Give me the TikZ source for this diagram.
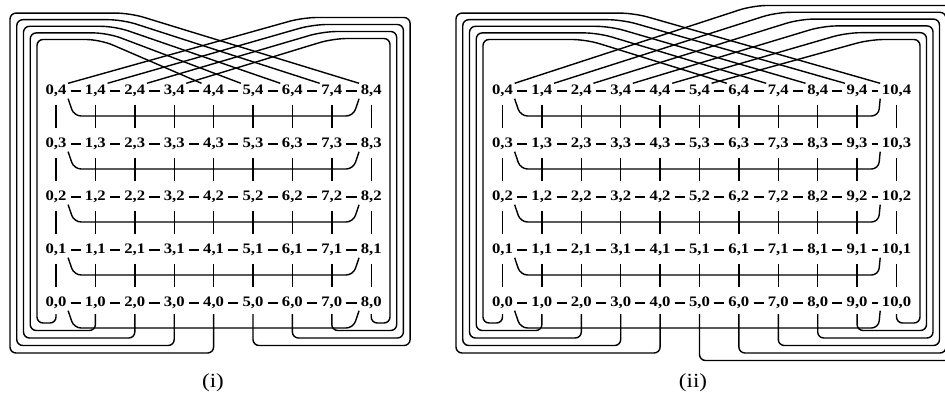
\documentclass[tikz,border=0pt]{standalone}
\usepackage{fontspec}
\setmainfont{Liberation Serif}[FakeStretch=1.15]
\usepackage{tikz}
\usetikzlibrary{calc}
\tikzset{
  vtx/.style={inner sep=1pt, text height=9.5pt, text depth=2.5pt, font=\fontsize{14.5}{14.5}\selectfont\bfseries},
  hedge/.style={shorten <=2.5pt, shorten >=2.5pt},
  vedge/.style={shorten <=6pt, shorten >=8pt},
  rowwrap/.style={rounded corners=7pt},
  twist/.style={rounded corners=6pt, shorten <=3.5pt},
  sublabel/.style={font=\fontsize{20}{20}\selectfont},
}

\begin{document}
\begin{tikzpicture}[x=1pt, y=-1pt, line width=1.4pt]
\useasboundingbox (0,0) rectangle (945,401);

% (i) 9 x 5
\foreach \x in {0,...,8}
  \foreach \y in {0,...,4}
    \node[vtx] (A-\x-\y) at (56+39.4*\x, 303-53*\y) {\x,\y};
\foreach \x in {0,...,7}
  \foreach \y in {0,...,4}{
    \pgfmathtruncatemacro\n{\x+1}
    \draw[hedge] (A-\x-\y) -- (A-\n-\y);
  }
\foreach \x in {0,...,8}
  \foreach \y in {0,...,3}{
    \pgfmathtruncatemacro\n{\y+1}
    \draw[vedge] (A-\x-\n.south) -- (A-\x-\y.north);
  }
\foreach \y in {0,...,4}
  \draw[rowwrap] (A-0-\y.south east) -- ($(A-0-\y)+(18,25)$) -- ($(A-8-\y)+(-18,25)$) -- (A-8-\y.south west);
% column wrap, left side
\foreach \j in {0,...,4}{
  \pgfmathtruncatemacro\t{\j+4}
  \pgfmathsetmacro\xc{56+39.4*\j}
  \pgfmathsetmacro\yb{323+7.5*\j}
  \pgfmathsetmacro\xl{37-6.75*\j}
  \pgfmathsetmacro\yt{39.5-6.6*\j}
  \pgfmathsetmacro\xh{100+7.5*\j}
  \draw[twist] (A-\j-0.south) -- (\xc,\yb) -- (\xl,\yb) -- (\xl,\yt) [rounded corners=14pt] -- (\xh,\yt) -- (A-\t-4.north west);
}
% column wrap, right side
\foreach \j in {0,...,3}{
  \pgfmathtruncatemacro\c{8-\j}
  \pgfmathtruncatemacro\t{3-\j}
  \pgfmathsetmacro\xc{56+39.4*\c}
  \pgfmathsetmacro\yb{323+7.5*\j}
  \pgfmathsetmacro\xr{390+6.7*\j}
  \pgfmathsetmacro\yt{38.5-7*\j}
  \pgfmathsetmacro\xh{333-10*\j}
  \draw[twist] (A-\c-0.south) -- (\xc,\yb) -- (\xr,\yb) -- (\xr,\yt) [rounded corners=14pt] -- (\xh,\yt) -- (A-\t-4.north east);
}

% (ii) 11 x 5
\foreach \x in {0,...,10}
  \foreach \y in {0,...,4}
    \node[vtx] (B-\x-\y) at (502.5+39.4*\x, 303-53*\y) {\x,\y};
\foreach \x in {0,...,9}
  \foreach \y in {0,...,4}{
    \pgfmathtruncatemacro\n{\x+1}
    \draw[hedge] (B-\x-\y) -- (B-\n-\y);
  }
\foreach \x in {0,...,10}
  \foreach \y in {0,...,3}{
    \pgfmathtruncatemacro\n{\y+1}
    \draw[vedge] (B-\x-\n.south) -- (B-\x-\y.north);
  }
\foreach \y in {0,...,4}
  \draw[rowwrap] (B-0-\y.south east) -- ($(B-0-\y)+(18,25)$) -- ($(B-10-\y)+(-18,25)$) -- (B-10-\y.south west);
% column wrap, left side
\foreach \j in {0,...,4}{
  \pgfmathtruncatemacro\t{\j+6}
  \pgfmathsetmacro\xc{502.5+39.4*\j}
  \pgfmathsetmacro\yb{323+7.5*\j}
  \pgfmathsetmacro\xl{483-6.75*\j}
  \pgfmathsetmacro\yt{39.5-6.6*\j}
  \pgfmathsetmacro\xh{586+12*\j}
  \draw[twist] (B-\j-0.south) -- (\xc,\yb) -- (\xl,\yb) -- (\xl,\yt) [rounded corners=14pt] -- (\xh,\yt) -- (B-\t-4.north west);
}
% column wrap, right side
\foreach \j in {0,...,5}{
  \pgfmathtruncatemacro\c{10-\j}
  \pgfmathtruncatemacro\t{5-\j}
  \pgfmathsetmacro\xc{502.5+39.4*\c}
  \pgfmathsetmacro\yb{323+7.5*\j}
  \pgfmathsetmacro\xr{920+6.5*\j}
  \pgfmathsetmacro\yt{39.5-6.8*\j}
  \pgfmathsetmacro\xh{870-23.4*\j}
  \draw[twist] (B-\c-0.south) -- (\xc,\yb) -- (\xr,\yb) -- (\xr,\yt) [rounded corners=14pt] -- (\xh,\yt) -- (B-\t-4.north east);
}

\node[sublabel] (capA) at (213,383) {(i)};
\node[sublabel] (capB) at (693,383) {(ii)};
\end{tikzpicture}
\end{document}
